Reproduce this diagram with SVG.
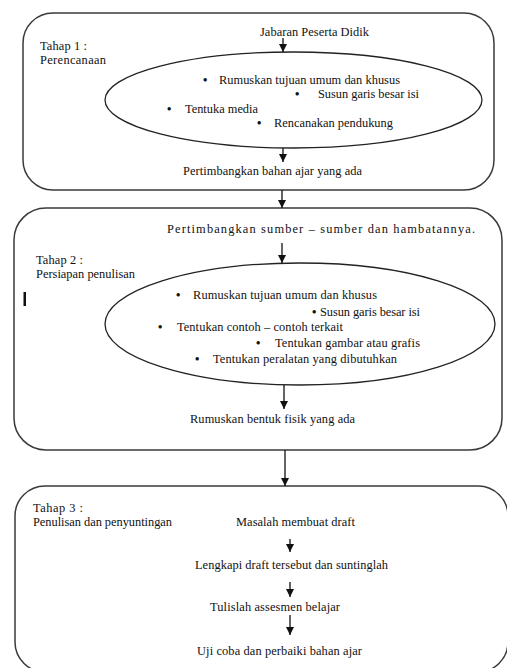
<svg xmlns="http://www.w3.org/2000/svg" width="507" height="668" viewBox="0 0 507 668">
<defs>
<marker id="ah" markerUnits="userSpaceOnUse" markerWidth="8" markerHeight="10" refX="8" refY="4" orient="auto" viewBox="0 0 8 8">
<path d="M0,0 L8,4 L0,8 Z" fill="#111"/>
</marker>
<style>
.box{fill:#fff;stroke:#3a3a3a;stroke-width:1.5}
.ell{fill:none;stroke:#222;stroke-width:1.3}
.t{font-family:"Liberation Serif","Times New Roman",serif;font-size:12.4px;fill:#111}
.b{font-family:"Liberation Serif","Times New Roman",serif;font-size:12.4px;font-weight:bold;fill:#111}
.c{stroke:#111;stroke-width:1.3;fill:none;marker-end:url(#ah)}
</style>
</defs>
<rect width="507" height="668" fill="#fff"/>
<g id="tahap1">
<rect class="box" x="23" y="13" width="471" height="177" rx="30" ry="30"/>
<text class="t" x="260" y="36" textLength="109" lengthAdjust="spacing">Jabaran Peserta Didik</text>
<text class="t" x="40" y="50" textLength="47" lengthAdjust="spacing">Tahap 1 :</text>
<text class="t" x="40" y="64" textLength="66" lengthAdjust="spacing">Perencanaan</text>
</g>
<g id="ellipse1">
<ellipse class="ell" cx="293.5" cy="100" rx="188.5" ry="48"/>
<text class="b" x="203" y="84">•</text>
<text class="t" x="219" y="84" textLength="181" lengthAdjust="spacing">Rumuskan tujuan umum dan khusus</text>
<text class="b" x="295" y="98">•</text>
<text class="t" x="318" y="98" textLength="101" lengthAdjust="spacing">Susun garis besar isi</text>
<text class="b" x="167" y="113">•</text>
<text class="t" x="185" y="113" textLength="73" lengthAdjust="spacing">Tentuka media</text>
<text class="b" x="257" y="127">•</text>
<text class="t" x="274" y="127" textLength="119" lengthAdjust="spacing">Rencanakan pendukung</text>
</g>
<g id="bahan-ajar">
<text class="t" x="183" y="175" textLength="179" lengthAdjust="spacing">Pertimbangkan bahan ajar yang ada</text>
</g>
<g id="tahap2">
<rect class="box" x="14" y="208" width="488" height="242" rx="32" ry="32"/>
<text class="t" x="167" y="233" textLength="308" lengthAdjust="spacing">Pertimbangkan sumber – sumber dan hambatannya.</text>
<text class="t" x="36" y="264" textLength="47" lengthAdjust="spacing">Tahap 2 :</text>
<text class="t" x="36" y="278" textLength="99" lengthAdjust="spacing">Persiapan penulisan</text>
<rect x="23.5" y="292" width="2.5" height="14" fill="#111"/>
</g>
<g id="ellipse2">
<ellipse class="ell" cx="300" cy="324" rx="195" ry="61"/>
<text class="b" x="176" y="299">•</text>
<text class="t" x="193" y="299" textLength="184" lengthAdjust="spacing">Rumuskan tujuan umum dan khusus</text>
<text class="b" x="312" y="316">•</text>
<text class="t" x="320" y="316" textLength="100" lengthAdjust="spacing">Susun garis besar isi</text>
<text class="b" x="158" y="331">•</text>
<text class="t" x="177" y="331" textLength="166" lengthAdjust="spacing">Tentukan contoh – contoh terkait</text>
<text class="b" x="256" y="347">•</text>
<text class="t" x="275" y="347" textLength="145" lengthAdjust="spacing">Tentukan gambar atau grafis</text>
<text class="b" x="195" y="363">•</text>
<text class="t" x="213" y="363" textLength="184" lengthAdjust="spacing">Tentukan peralatan yang dibutuhkan</text>
</g>
<g id="bentuk-fisik">
<text class="t" x="190" y="423" textLength="165" lengthAdjust="spacing">Rumuskan bentuk fisik yang ada</text>
</g>
<g id="tahap3">
<rect class="box" x="15" y="486" width="493" height="186" rx="30" ry="30"/>
<text class="t" x="33" y="512" textLength="50" lengthAdjust="spacing">Tahap 3 :</text>
<text class="t" x="33" y="526" textLength="139" lengthAdjust="spacing">Penulisan dan penyuntingan</text>
</g>
<g id="draft"><text class="t" x="236" y="526" textLength="119" lengthAdjust="spacing">Masalah membuat draft</text></g>
<g id="lengkapi"><text class="t" x="195" y="569" textLength="193" lengthAdjust="spacing">Lengkapi draft tersebut dan suntinglah</text></g>
<g id="assesmen"><text class="t" x="210" y="611" textLength="130" lengthAdjust="spacing">Tulislah assesmen belajar</text></g>
<g id="uji"><text class="t" x="197" y="655" textLength="165" lengthAdjust="spacing">Uji coba dan perbaiki bahan ajar</text></g>
<g id="connectors">
<path class="c" d="M283,38 V52"/>
<path class="c" d="M283,148 V162"/>
<path class="c" d="M282,190 V208"/>
<path class="c" d="M282,243 V263"/>
<path class="c" d="M284,385 V409"/>
<path class="c" d="M285,450 V486"/>
<path class="c" d="M290,539 V552"/>
<path class="c" d="M290,582 V597"/>
<path class="c" d="M290,615 V635"/>
</g>
</svg>
